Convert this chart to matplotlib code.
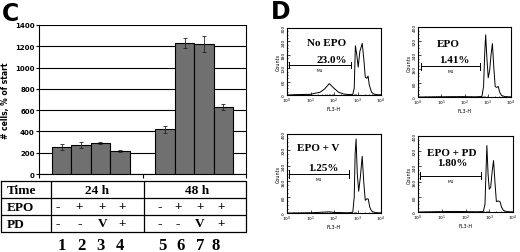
import matplotlib.pyplot as plt
import matplotlib.ticker as mticker
import numpy as np

# ---------------- data: panel C ----------------
group_labels = ['24 h', '48 h']
cells_24h = [255, 272, 295, 215]
err_24h = [25, 32, 10, 6]
cells_48h = [420, 1230, 1225, 630]
err_48h = [32, 45, 75, 32]
epo_row = ['-', '+', '+', '+', '-', '+', '+', '+']
pd_row = ['-', '-', 'V', '+', '-', '-', 'V', '+']
lane_numbers = ['1', '2', '3', '4', '5', '6', '7', '8']

# ---------------- data: panel D ----------------
hist_titles = ['No EPO', 'EPO', 'EPO + V', 'EPO + PD']
hist_pct = ['23.0%', '1.41%', '1.25%', '1.80%']
hist_ymax = [300, 400, 400, 400]
logx_noepo = [0, 0.5, 1.0, 1.2, 1.4, 1.6, 1.8, 2.0, 2.2, 2.4, 2.6, 2.8, 2.86,
              2.91, 2.97, 3.03, 3.1, 3.2, 3.27, 3.33, 3.4, 3.45, 3.5, 3.6,
              3.7, 3.85, 4.0]
cnt_noepo = [0, 2, 3, 8, 12, 27, 51, 30, 12, 5, 2, 3, 30, 220, 180, 125, 195,
             231, 160, 80, 75, 85, 45, 12, 4, 1, 0]
logx_epo = [0, 0.8, 1.5, 2.0, 2.5, 2.75, 2.82, 2.87, 2.91, 2.96, 3.02, 3.08,
            3.14, 3.2, 3.26, 3.32, 3.38, 3.45, 3.52, 3.6, 3.75, 4.0]
cnt_epo = [0, 1, 2, 2, 1, 3, 60, 250, 355, 230, 110, 150, 240, 305, 170, 60,
           55, 60, 25, 8, 2, 0]
logx_v = [0, 1.0, 1.5, 1.8, 2.0, 2.3, 2.6, 2.8, 2.86, 2.9, 2.94, 2.99, 3.05,
          3.12, 3.2, 3.27, 3.33, 3.4, 3.46, 3.52, 3.6, 3.75, 4.0]
cnt_v = [0, 1, 4, 6, 3, 2, 1, 4, 80, 300, 375, 200, 110, 180, 287, 150, 64,
         72, 70, 30, 10, 2, 0]
logx_pd = [0, 1.0, 1.5, 2.0, 2.5, 2.75, 2.82, 2.86, 2.9, 2.95, 3.0, 3.06,
           3.12, 3.18, 3.25, 3.3, 3.38, 3.45, 3.52, 3.6, 3.75, 4.0]
cnt_pd = [0, 2, 3, 2, 1, 3, 40, 200, 350, 200, 120, 130, 210, 271, 140, 55,
          58, 55, 25, 8, 2, 0]
hist_logx = [logx_noepo, logx_epo, logx_v, logx_pd]
hist_cnt = [cnt_noepo, cnt_epo, cnt_v, cnt_pd]
# M1 gate: start, end (log10)
gate_lo = [0.07, 0.13, 0.09, 0.10]
gate_hi = [2.73, 2.67, 2.64, 2.67]

W, H = 520, 253
fig = plt.figure(figsize=(W / 100, H / 100), dpi=100)


def px(l, t, r, b):
    return [l / W, 1 - b / H, (r - l) / W, (b - t) / H]


SERIF = 'Liberation Serif'

# =========================================================
# panel C: bars
# =========================================================
ax = fig.add_axes(px(39, 26, 246, 175))
bw = 0.1875
for g, (vals, errs) in enumerate([(cells_24h, err_24h), (cells_48h, err_48h)]):
    xs = g + 0.125 + bw * (np.arange(4) + 0.5)
    ax.bar(xs, vals, bw, color='#707070', edgecolor='black', linewidth=0.8,
           zorder=3)
    ax.errorbar(xs, vals, yerr=errs, fmt='none', ecolor='#222222',
                elinewidth=0.6, capsize=1.5, capthick=0.6, zorder=4)
ax.set_xlim(0, 2)
ax.set_ylim(0, 1400)
ax.set_yticks(np.arange(0, 1401, 200))
ax.set_xticks([0, 1, 2])
ax.set_xticklabels([])
ax.tick_params(axis='x', direction='out', length=3, width=0.8)
ax.tick_params(axis='y', direction='out', length=2, width=0.8, labelsize=5,
               pad=1)
for lab in ax.get_yticklabels():
    lab.set_fontweight('bold')
ax.grid(axis='y', color='black', linewidth=0.8, zorder=0)
ax.set_axisbelow(True)
for s in ax.spines.values():
    s.set_linewidth(0.8)
ax.spines['top'].set_visible(False)
ax.set_ylabel('# cells, % of start', fontsize=5.5, fontweight='bold',
              labelpad=4)

fig.text(2 / W, 1 - 21 / H, 'C', fontsize=17, fontweight='bold',
         family='DejaVu Sans', ha='left', va='baseline')

# ---------------- table under the bars ----------------
tx = fig.add_axes(px(1, 182, 246, 233))
x_left = -38 / 103
tx.set_xlim(x_left, 2)
tx.set_ylim(3, 0)
tx.axis('off')
lw = 0.9
tx.plot([x_left, 2, 2, x_left, x_left], [0, 0, 3, 3, 0], color='black',
        lw=lw, clip_on=False)
for yy in [1, 2]:
    tx.plot([x_left, 2], [yy, yy], color='black', lw=lw)
col_x = 12 / 103
tx.plot([col_x, col_x], [0, 3], color='black', lw=lw)
tx.plot([1.01, 1.01], [0, 3], color='black', lw=lw)

lab_x = -32 / 103
tfont = dict(family=SERIF, fontweight='bold', fontsize=9.5)
for r, name in enumerate(['Time', 'EPO', 'PD']):
    tx.text(lab_x, r + 0.52, name, ha='left', va='center', **tfont)
tx.text(0.56, 0.52, group_labels[0], ha='center', va='center', **tfont)
tx.text(1.53, 0.52, group_labels[1], ha='center', va='center', **tfont)

sym_x = [0.184, 0.388, 0.612, 0.806, 1.165, 1.340, 1.553, 1.757]
num_x = [0.22, 0.41, 0.59, 0.78, 1.19, 1.37, 1.56, 1.71]
for i in range(8):
    tx.text(sym_x[i], 1.5, epo_row[i], ha='center', va='center', **tfont)
    tx.text(sym_x[i], 2.5, pd_row[i], ha='center', va='center', **tfont)
    tx.text(num_x[i], 3.75, lane_numbers[i], ha='center', va='center',
            family=SERIF, fontweight='bold', fontsize=12, clip_on=False)

# =========================================================
# panel D: flow histograms
# =========================================================
fig.text(271 / W, 1 - 19 / H, 'D', fontsize=17, fontweight='bold',
         family='DejaVu Sans', ha='left', va='baseline')

boxes = [(287, 29, 381, 96), (418, 28, 511, 98),
         (287, 135, 381, 214), (418, 137, 513, 213)]
title_pos = [(1.69, 0.78), (1.31, 0.76), (1.33, 0.83), (1.42, 0.78)]
pct_pos = [(1.90, 0.53), (1.56, 0.54), (1.54, 0.58), (1.45, 0.65)]
gate_y = [0.45, 0.44, 0.49, 0.48]

for k in range(4):
    hx = fig.add_axes(px(*boxes[k]))
    ymax = hist_ymax[k]
    hx.plot(10 ** np.array(hist_logx[k]), hist_cnt[k], color='black', lw=0.7)
    hx.set_xscale('log')
    hx.set_xlim(1, 1e4)
    hx.set_ylim(0, ymax)
    hx.yaxis.set_major_locator(mticker.MultipleLocator(ymax / 5))
    hx.yaxis.set_minor_locator(mticker.MultipleLocator(ymax / 20))
    hx.tick_params(which='both', direction='in', labelsize=3.2, pad=0.8,
                   width=0.5)
    hx.tick_params(which='major', length=2)
    hx.tick_params(which='minor', length=1)
    hx.tick_params(axis='y', labelrotation=90)
    for lab in hx.get_yticklabels():
        lab.set_va('center')
    for s in hx.spines.values():
        s.set_linewidth(0.8)
    hx.set_xlabel('FL3-H', fontsize=3.5, labelpad=0.5)
    hx.set_ylabel('Counts', fontsize=3.5, labelpad=0.5)

    gy = gate_y[k] * ymax
    g0, g1 = 10 ** gate_lo[k], 10 ** gate_hi[k]
    hx.plot([g0, g1], [gy, gy], color='black', lw=0.7)
    hx.plot([g0, g0], [gy - ymax * 0.05, gy + ymax * 0.05], color='black',
            lw=0.7)
    hx.plot([g1, g1], [gy - ymax * 0.05, gy + ymax * 0.05], color='black',
            lw=0.7)
    hx.text(10 ** ((gate_lo[k] + gate_hi[k]) / 2), gy - ymax * 0.04, 'M1',
            fontsize=3.2, ha='center', va='top')

    hx.text(10 ** title_pos[k][0], title_pos[k][1] * ymax, hist_titles[k],
            family=SERIF, fontweight='bold', fontsize=8, ha='center',
            va='center')
    hx.text(10 ** pct_pos[k][0], pct_pos[k][1] * ymax, hist_pct[k],
            family=SERIF, fontweight='bold', fontsize=8, ha='center',
            va='center')

fig.savefig('out.png', dpi=100)
